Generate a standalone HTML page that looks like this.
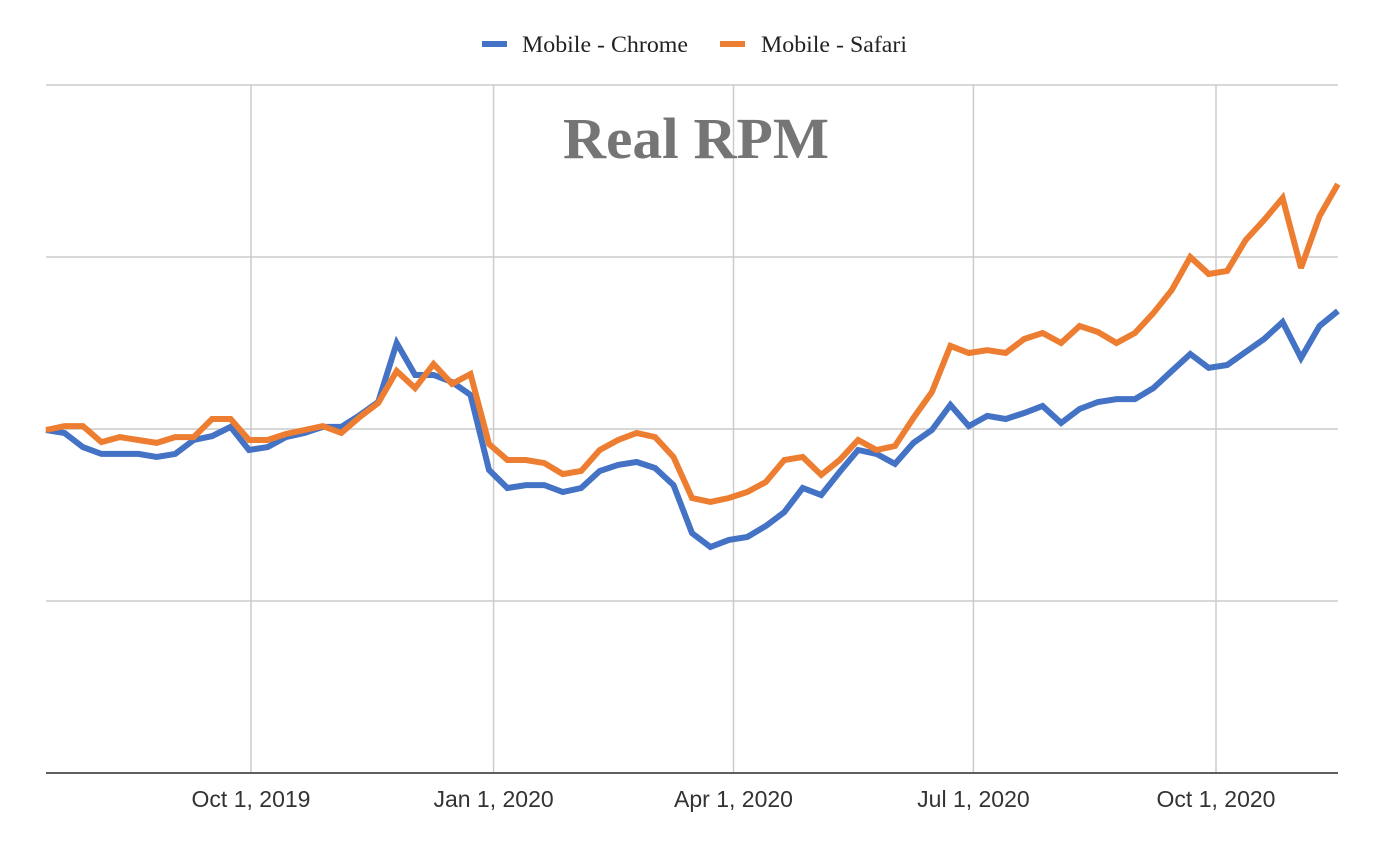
<!DOCTYPE html>
<html><head><meta charset="utf-8"><style>
html,body{margin:0;padding:0;background:#fff;}
svg{display:block;}
</style></head><body>
<svg id="chart" width="1382" height="854" xmlns="http://www.w3.org/2000/svg">
<g id="grid"></g>
<text x="696" y="158" text-anchor="middle" font-family="Liberation Serif, serif" font-weight="bold" font-size="58" fill="#757575" textLength="266" lengthAdjust="spacingAndGlyphs">Real RPM</text>
<g id="series"></g>
<g id="xticks"></g>
<g>
 <g>
  <rect x="482" y="41" width="25" height="6" fill="#4472C4"/>
  <text x="522" y="52" font-family="Liberation Serif, serif" font-size="23" fill="#222" textLength="166" lengthAdjust="spacingAndGlyphs">Mobile - Chrome</text>
 </g>
 <g>
  <rect x="720" y="41" width="25" height="6" fill="#ED7D31"/>
  <text x="761" y="52" font-family="Liberation Serif, serif" font-size="23" fill="#222" textLength="146" lengthAdjust="spacingAndGlyphs">Mobile - Safari</text>
 </g>
</g>
</svg>
<script>
const startDate = "2019-07-15";
const chromeValues = [199.4,197.7,189.5,185.5,185.5,185.5,183.7,185.5,193.6,195.9,201.2,187.8,189.5,195.3,197.7,201.2,201.2,208.1,215.7,250,231.4,231.4,227.3,219.8,176.2,165.7,167.4,167.4,163.4,165.7,175.6,179.1,180.8,177.3,167.4,139.5,131.4,135.5,137.2,143.6,151.7,165.7,161.6,175,187.8,185.5,179.7,191.9,199.4,214,201.7,207.6,205.8,209.3,213.4,203.5,211.6,215.7,217.4,217.4,223.8,233.7,243.6,235.5,237.2,244.8,252.3,262.2,241.3,259.9,268.6];
const safariValues = [199.4,201.7,201.7,192.4,195.3,193.6,191.9,195.3,195.3,205.8,205.8,193.6,193.6,197.1,199.4,201.7,197.7,207,215.1,233.7,223.8,237.8,226.2,232,191.3,182,182,180.2,173.8,175.6,187.8,193.6,197.7,195.3,183.7,159.9,157.6,159.9,163.4,169.2,182,183.7,173.3,182,193.6,187.8,190.1,206.4,221.5,248.3,244.2,245.9,244.2,252.3,255.8,250,259.9,256.4,250,255.8,267.4,280.8,300,290.1,291.9,309.9,321.5,334.3,293.6,323.8,342.4];
const yTicks = [0,100,200,300,400];
const xTickDates = ["2019-10-01","2020-01-01","2020-04-01","2020-07-01","2020-10-01"];
const xTickLabels = ["Oct 1, 2019","Jan 1, 2020","Apr 1, 2020","Jul 1, 2020","Oct 1, 2020"];

const NS="http://www.w3.org/2000/svg";
const L=46,R=1338,T=85,B=773,YMAX=400;
const DAY=86400000;
const anchor=Date.parse("2019-10-01"), anchorX=251, PXDAY=965/366;
function xDate(d){return anchorX+(Date.parse(d)-anchor)/DAY*PXDAY;}
const firstX=L;
function xIdx(i){return firstX+i*7*PXDAY;}
function yVal(v){return B-v/YMAX*(B-T);}
function mk(tag,attrs,parent){const e=document.createElementNS(NS,tag);for(const k in attrs)e.setAttribute(k,attrs[k]);parent.appendChild(e);return e;}

const grid=document.getElementById('grid');
yTicks.forEach((v,i)=>{
 const y=yVal(v);
 const ln=mk('line',{x1:L,x2:R,y1:y,y2:y,stroke:'#ccc','stroke-width':1.5},grid);
 
 
});
const xt=document.getElementById('xticks');
xTickDates.forEach((d,i)=>{
 const x=xDate(d);
 const ln=mk('line',{x1:x,x2:x,y1:T,y2:B,stroke:'#ccc','stroke-width':1.5},grid);
 
 
 const tx=mk('text',{x:x,y:807,'text-anchor':'middle','font-family':'Liberation Sans, sans-serif','font-size':23,fill:'#333'},xt);
 tx.textContent=xTickLabels[i];
 
 
});
const base=mk('line',{x1:L,x2:R,y1:B,y2:B,stroke:'#333','stroke-width':1.5},grid);



const ser=document.getElementById('series');
function drawLine(vals,color,name){
 const pts=vals.map((v,i)=>xIdx(i).toFixed(1)+','+yVal(v).toFixed(1)).join(' ');
 const p=mk('polyline',{points:pts,fill:'none',stroke:color,'stroke-width':6,'stroke-linejoin':'miter','stroke-miterlimit':3},ser);
 
 
}
drawLine(chromeValues,'#4472C4','line-mobile-chrome');
drawLine(safariValues,'#ED7D31','line-mobile-safari');
</script>
</body></html>
